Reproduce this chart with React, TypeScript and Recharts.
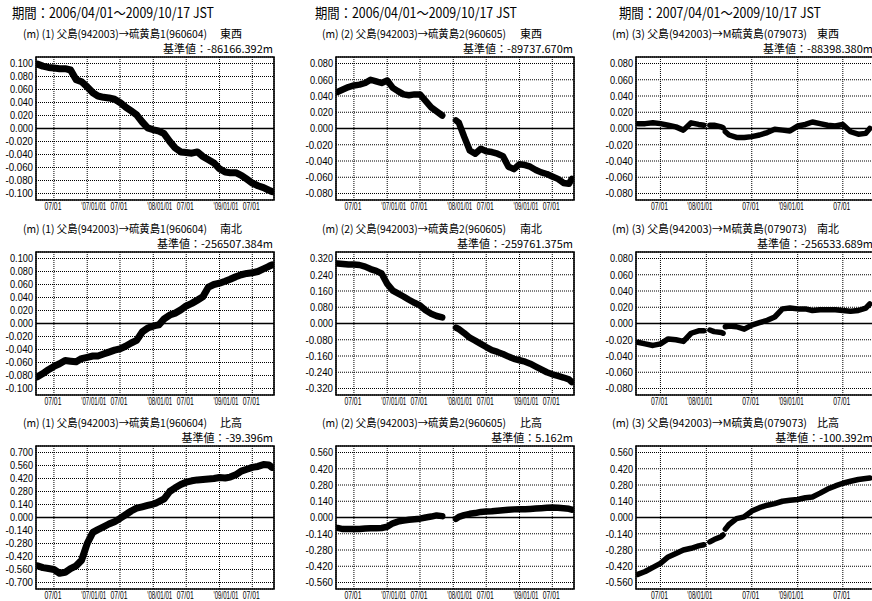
import React from "react";
import {
  LineChart,
  Line,
  XAxis,
  YAxis,
  CartesianGrid,
  ReferenceLine,
  ReferenceArea,
} from "recharts";

// ---- sampling dates ----------------------------------------------------
const DATES_2006 = [
  "2006-04-01", "2006-05-01", "2006-06-01", "2006-07-01", "2006-08-01", "2006-09-01",
  "2006-10-01", "2006-11-01", "2006-12-01", "2007-01-01", "2007-02-01", "2007-03-01",
  "2007-04-01", "2007-05-01", "2007-06-01", "2007-07-01", "2007-08-01", "2007-09-01",
  "2007-10-01", "2007-11-01", "2007-12-01", "2008-01-01", "2008-01-16", "2008-02-01",
  "2008-03-01", "2008-04-01", "2008-05-01", "2008-06-01", "2008-07-01", "2008-08-01",
  "2008-09-01", "2008-10-01", "2008-11-01", "2008-12-01", "2009-01-01", "2009-02-01",
  "2009-03-01", "2009-04-01", "2009-05-01", "2009-06-01", "2009-07-01", "2009-08-01",
  "2009-09-01", "2009-10-01", "2009-10-17",
];

const DATES_2007 = [
  "2007-04-01", "2007-05-01", "2007-06-01", "2007-07-01", "2007-08-01", "2007-09-01",
  "2007-10-01", "2007-11-01", "2007-12-01", "2007-12-22", "2007-12-25", "2008-01-15",
  "2008-02-01", "2008-03-01", "2008-03-08", "2008-03-12", "2008-03-17", "2008-04-01",
  "2008-05-01", "2008-06-01", "2008-07-01", "2008-08-01", "2008-09-01", "2008-10-01",
  "2008-11-01", "2008-12-01", "2009-01-01", "2009-02-01", "2009-03-01", "2009-04-01",
  "2009-05-01", "2009-06-01", "2009-07-01", "2009-08-01", "2009-09-01", "2009-10-01",
  "2009-10-17",
];

// ---- baseline changes (m); null marks missing observations --------------
// (1) 父島 → 硫黄島1
const EW_1 = [
  0.099, 0.096, 0.094, 0.093, 0.092, 0.092, 0.090, 0.075, 0.072, 0.064, 0.055, 0.050,
  0.048, 0.047, 0.045, 0.040, 0.033, 0.027, 0.021, 0.010, 0.001, -0.002, -0.003, -0.004,
  -0.008, -0.020, -0.030, -0.036, -0.037, -0.038, -0.036, -0.043, -0.048, -0.053, -0.062,
  -0.067, -0.068, -0.068, -0.072, -0.078, -0.084, -0.088, -0.091, -0.095, -0.097,
];
const NS_1 = [
  -0.082, -0.077, -0.071, -0.066, -0.062, -0.057, -0.058, -0.059, -0.054, -0.052, -0.050, -0.050,
  -0.047, -0.044, -0.041, -0.039, -0.035, -0.030, -0.026, -0.013, -0.007, -0.004, -0.003, -0.002,
  0.007, 0.013, 0.016, 0.021, 0.027, 0.031, 0.036, 0.041, 0.056, 0.060, 0.062,
  0.065, 0.068, 0.072, 0.075, 0.077, 0.078, 0.080, 0.084, 0.088, 0.090,
];
const UD_1 = [
  -0.52, -0.54, -0.55, -0.56, -0.60, -0.59, -0.55, -0.52, -0.46, -0.28, -0.16, -0.13,
  -0.10, -0.07, -0.045, -0.01, 0.03, 0.07, 0.10, 0.115, 0.13, 0.145, 0.155, 0.17,
  0.20, 0.28, 0.32, 0.355, 0.38, 0.395, 0.405, 0.41, 0.415, 0.42, 0.43,
  0.425, 0.435, 0.46, 0.50, 0.52, 0.54, 0.55, 0.57, 0.565, 0.54,
];

// (2) 父島 → 硫黄島2
const EW_2 = [
  0.045, 0.048, 0.051, 0.053, 0.054, 0.056, 0.060, 0.058, 0.056, 0.059, 0.050, 0.046,
  0.042, 0.041, 0.042, 0.042, 0.034, 0.026, 0.021, 0.016, null, null, 0.010, 0.007,
  -0.010, -0.027, -0.031, -0.025, -0.028, -0.029, -0.031, -0.034, -0.047, -0.050, -0.044,
  -0.045, -0.047, -0.051, -0.054, -0.056, -0.059, -0.062, -0.067, -0.068, -0.062,
];
const NS_2 = [
  0.295, 0.293, 0.290, 0.290, 0.288, 0.280, 0.268, 0.259, 0.246, 0.195, 0.162, 0.148,
  0.133, 0.117, 0.102, 0.089, 0.065, 0.048, 0.037, 0.030, null, null, -0.020, -0.028,
  -0.047, -0.070, -0.084, -0.100, -0.116, -0.131, -0.140, -0.150, -0.163, -0.174, -0.181,
  -0.188, -0.198, -0.212, -0.226, -0.240, -0.250, -0.258, -0.266, -0.275, -0.288,
];
const UD_2 = [
  -0.09, -0.10, -0.10, -0.10, -0.10, -0.095, -0.092, -0.092, -0.090, -0.08, -0.05, -0.035,
  -0.027, -0.020, -0.015, -0.010, 0.000, 0.008, 0.018, 0.012, null, null, -0.012, 0.005,
  0.020, 0.032, 0.038, 0.048, 0.052, 0.053, 0.058, 0.062, 0.066, 0.070, 0.072,
  0.072, 0.074, 0.077, 0.080, 0.084, 0.086, 0.084, 0.080, 0.075, 0.068,
];

// (3) 父島 → M硫黄島
const EW_3 = [
  0.006, 0.006, 0.007, 0.006, 0.004, 0.002, -0.002, 0.007, 0.005, 0.004, null, 0.004,
  0.004, 0.002, 0.001, null, -0.004, -0.008, -0.011, -0.011, -0.010, -0.008, -0.005, -0.001,
  -0.002, -0.003, 0.003, 0.005, 0.008, 0.006, 0.004, 0.003, 0.005, -0.004, -0.007, -0.006,
  0.000,
];
const NS_3 = [
  -0.023, -0.025, -0.027, -0.025, -0.019, -0.020, -0.022, -0.012, -0.009, -0.009, null, -0.008,
  -0.010, -0.011, -0.012, null, -0.004, -0.003, -0.004, -0.007, -0.002, 0.001, 0.004, 0.008,
  0.018, 0.019, 0.018, 0.018, 0.016, 0.017, 0.017, 0.017, 0.016, 0.015, 0.016, 0.019,
  0.024,
];
const UD_3 = [
  -0.49, -0.465, -0.43, -0.395, -0.34, -0.31, -0.28, -0.265, -0.245, -0.235, null, -0.21,
  -0.19, -0.165, -0.15, null, -0.10, -0.06, -0.01, 0.006, 0.055, 0.085, 0.106, 0.12,
  0.14, 0.148, 0.155, 0.17, 0.177, 0.21, 0.245, 0.272, 0.295, 0.312, 0.327, 0.336,
  0.34,
];

// ---- axis ticks --------------------------------------------------------
const X_TICKS_2006 = ["2006-07-01", "2007-01-01", "2007-07-01", "2008-01-01", "2008-07-01", "2009-01-01", "2009-07-01"];
const X_LABELS_2006 = ["07/01", "'07/01/01", "07/01", "'08/01/01", "07/01", "'09/01/01", "07/01"];
const X_TICKS_2007 = ["2007-07-01", "2008-01-01", "2008-07-01", "2009-01-01", "2009-07-01"];
const X_LABELS_2007 = ["07/01", "'08/01/01", "07/01", "'09/01/01", "07/01"];

const Y_TICKS_010 = [0.1, 0.08, 0.06, 0.04, 0.02, 0, -0.02, -0.04, -0.06, -0.08, -0.1];
const Y_TICKS_008 = [0.08, 0.06, 0.04, 0.02, 0, -0.02, -0.04, -0.06, -0.08];
const Y_TICKS_032 = [0.32, 0.24, 0.16, 0.08, 0, -0.08, -0.16, -0.24, -0.32];
const Y_TICKS_070 = [0.7, 0.56, 0.42, 0.28, 0.14, 0, -0.14, -0.28, -0.42, -0.56, -0.7];
const Y_TICKS_056 = [0.56, 0.42, 0.28, 0.14, 0, -0.14, -0.28, -0.42, -0.56];

// ---- labels ------------------------------------------------------------
const PERIODS = [
  "期間：2006/04/01～2009/10/17 JST",
  "期間：2006/04/01～2009/10/17 JST",
  "期間：2007/04/01～2009/10/17 JST",
];
const ROUTES = [
  "(m) (1) 父島(942003)→硫黄島1(960604)",
  "(m) (2) 父島(942003)→硫黄島2(960605)",
  "(m) (3) 父島(942003)→M硫黄島(079073)",
];
const COMPONENTS = ["東西", "南北", "比高"];
const BASE_VALUES = [
  ["-86166.392m", "-89737.670m", "-88398.380m"],
  ["-256507.384m", "-259761.375m", "-256533.689m"],
  ["-39.396m", "5.162m", "-100.392m"],
];

// ---- layout ------------------------------------------------------------
const FONT_JP = "'Noto Sans CJK JP', 'Noto Sans', sans-serif";
const FONT_NUM = "'Liberation Sans', Arial, sans-serif";
const TICK_FS = 11;
const PLOT_W = 238;
const PLOT_H = 143;
const COL_X = [36, 336, 636];
const ROW_Y = [57, 252, 446];
const Y_W = 40;
const TOP_PAD = 4;
const RIGHT_PAD = 6;
const X_H = 16;
const PERIOD_X = [12, 315, 619];
const PERIOD_W = 202;
const ROUTE_X = [23, 322, 612];
const ROUTE_W = [184, 184, 195];
const COMPONENT_DX = [197, 198, 205];
const ROUTE_BASELINE = [38, 233, 427];
const BASE_BASELINE = [53, 248, 442];
const STROKES = [7, 6.5, 5.5];

const dayNum = (s: string) => {
  const [y, m, d] = s.split("-").map(Number);
  return Date.UTC(y, m - 1, d) / 86400000;
};

// approximate advance widths (em) of the tick glyphs in the sans face
const glyphEm = (ch: string) => (ch === "'" ? 0.191 : ch === "/" || ch === "." ? 0.278 : ch === "-" ? 0.333 : 0.556);
const naturalWidth = (s: string, fs: number) => s.split("").reduce((w, ch) => w + glyphEm(ch) * fs, 0);

// narrow tick text: drawn at full height, squeezed horizontally to a given width
function NarrowText({ x, y, label, width, anchor, dy }: { x: number; y: number; label: string; width: number; anchor: "start" | "middle" | "end"; dy: string }) {
  const nat = naturalWidth(label, TICK_FS);
  return (
    <text
      transform={`translate(${x},${y}) scale(${width / nat},1)`}
      dy={dy}
      textAnchor={anchor}
      fontSize={TICK_FS}
      fontFamily={FONT_NUM}
      fill="#000"
      textLength={nat}
      lengthAdjust="spacingAndGlyphs"
    >
      {label}
    </text>
  );
}

function renderYTick(p: any) {
  const label = Number(p.payload.value).toFixed(3);
  return <NarrowText x={p.x} y={p.y} label={label} width={label.length * 4.6} anchor="end" dy="0.36em" />;
}

type PanelProps = {
  col: number;
  row: number;
  dates: string[];
  values: (number | null)[];
  yTicks: number[];
  yMax: number;
  xTickDates: string[];
  xTickLabels: string[];
  pad: [number, number];
  janShift: number;
  stroke: number;
};

function Panel({ col, row, dates, values, yTicks, yMax, xTickDates, xTickLabels, pad, janShift, stroke }: PanelProps) {
  const data = dates.map((d, i) => ({ t: dayNum(d), v: values[i] }));
  const x0 = dayNum(dates[0]) - pad[0];
  const x1 = dayNum(dates[dates.length - 1]) + pad[1];
  const ticks = xTickDates.map(dayNum);
  const labelAt = new Map(ticks.map((t, i) => [t, xTickLabels[i]]));

  const renderXTick = (p: any) => {
    const label = labelAt.get(p.payload.value) ?? "";
    const jan = label.startsWith("'");
    return (
      <NarrowText
        x={jan ? p.x + janShift : p.x - 1}
        y={p.y}
        label={label}
        width={jan ? 25 : 17}
        anchor={jan ? "start" : "middle"}
        dy="0.71em"
      />
    );
  };

  return (
    <div style={{ position: "absolute", left: COL_X[col] - Y_W, top: ROW_Y[row] - TOP_PAD }}>
      <LineChart
        width={Y_W + PLOT_W + RIGHT_PAD}
        height={TOP_PAD + PLOT_H + X_H}
        data={data}
        margin={{ top: TOP_PAD, right: RIGHT_PAD, bottom: 0, left: 0 }}
      >
        <CartesianGrid stroke="#000" strokeDasharray="1 1" strokeWidth={1} />
        <XAxis
          dataKey="t"
          type="number"
          domain={[x0, x1]}
          ticks={ticks}
          interval={0}
          tick={renderXTick}
          height={X_H}
          axisLine={false}
          tickLine={false}
          tickSize={0}
          tickMargin={2}
          allowDataOverflow
        />
        <YAxis
          type="number"
          domain={[-yMax, yMax]}
          ticks={yTicks}
          interval={0}
          width={Y_W}
          tick={renderYTick}
          axisLine={false}
          tickLine={false}
          tickSize={0}
          tickMargin={3}
          allowDataOverflow
        />
        <ReferenceArea x1={x0} x2={x1} y1={-yMax} y2={yMax} fill="none" stroke="#000" strokeWidth={1.6} />
        <ReferenceLine y={0} stroke="#000" strokeWidth={1.3} />
        <Line
          type="linear"
          dataKey="v"
          stroke="#000"
          strokeWidth={stroke}
          strokeLinecap="round"
          strokeLinejoin="round"
          dot={false}
          connectNulls={false}
          isAnimationActive={false}
        />
      </LineChart>
    </div>
  );
}

const SERIES = [
  [EW_1, EW_2, EW_3],
  [NS_1, NS_2, NS_3],
  [UD_1, UD_2, UD_3],
];
const Y_SETS = [
  [[Y_TICKS_010, 0.11], [Y_TICKS_008, 0.088], [Y_TICKS_008, 0.088]],
  [[Y_TICKS_010, 0.11], [Y_TICKS_032, 0.352], [Y_TICKS_008, 0.088]],
  [[Y_TICKS_070, 0.77], [Y_TICKS_056, 0.616], [Y_TICKS_056, 0.616]],
] as [number[], number][][];

export default function App() {
  return (
    <div
      style={{
        position: "absolute",
        left: 0,
        top: 0,
        width: 872,
        height: 601,
        overflow: "hidden",
        background: "#fff",
      }}
    >
      {[0, 1, 2].map((row) =>
        [0, 1, 2].map((col) => {
          const late = col === 2;
          return (
            <Panel
              key={`${row}-${col}`}
              col={col}
              row={row}
              dates={late ? DATES_2007 : DATES_2006}
              values={SERIES[row][col]}
              yTicks={Y_SETS[row][col][0]}
              yMax={Y_SETS[row][col][1]}
              xTickDates={late ? X_TICKS_2007 : X_TICKS_2006}
              xTickLabels={late ? X_LABELS_2007 : X_LABELS_2006}
              pad={late ? [7, 17] : [8, 12]}
              janShift={late ? -19 : -6}
              stroke={STROKES[col]}
            />
          );
        })
      )}
      <svg
        width={872}
        height={601}
        style={{ position: "absolute", left: 0, top: 0, pointerEvents: "none" }}
        fontFamily={FONT_JP}
        fill="#000"
      >
        {PERIODS.map((p, c) => (
          <text
            key={`p${c}`}
            x={PERIOD_X[c]}
            y={17.5}
            fontSize={14}
            textLength={PERIOD_W}
            lengthAdjust="spacingAndGlyphs"
          >
            {p}
          </text>
        ))}
        {[0, 1, 2].map((row) =>
          [0, 1, 2].map((col) => (
            <g key={`t${row}-${col}`} fontSize={11}>
              <text
                x={ROUTE_X[col]}
                y={ROUTE_BASELINE[row]}
                textLength={ROUTE_W[col]}
                lengthAdjust="spacingAndGlyphs"
              >
                {ROUTES[col]}
              </text>
              <text x={ROUTE_X[col] + COMPONENT_DX[col]} y={ROUTE_BASELINE[row]}>
                {COMPONENTS[row]}
              </text>
              <text x={COL_X[col] + PLOT_W - 1} y={BASE_BASELINE[row]} textAnchor="end">
                {`基準値：${BASE_VALUES[row][col]}`}
              </text>
            </g>
          ))
        )}
      </svg>
    </div>
  );
}
